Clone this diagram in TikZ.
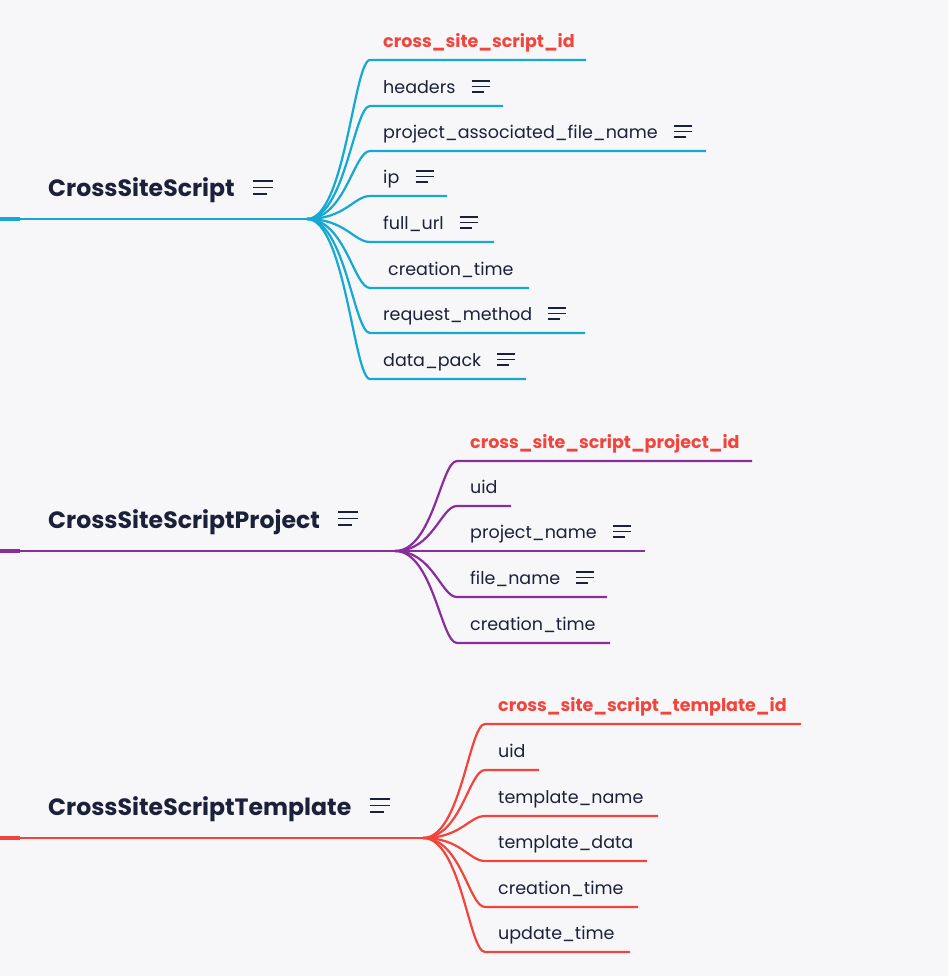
\documentclass[tikz,border=0pt]{standalone}
\usepackage{fontspec}
\setmainfont{Poppins}
\usetikzlibrary{calc}
\definecolor{bg}{HTML}{F7F7FA}
\definecolor{ink}{HTML}{1A2139}
\definecolor{cblue}{HTML}{14A9D3}
\definecolor{cpurple}{HTML}{8A2D9C}
\definecolor{cred}{HTML}{F2443B}
\tikzset{
  title/.style={anchor=base west, inner sep=0pt, font=\fontsize{23.6}{28}\selectfont\bfseries, text=ink},
  field/.style={anchor=base west, inner sep=0pt, font=\fontsize{17.5}{21}\selectfont, text=ink},
  keyfield/.style={anchor=base west, inner sep=0pt, font=\fontsize{17.5}{21}\selectfont\bfseries, text=cred},
  branch/.style={line width=2.2pt},
  menuicon/.pic={\draw[line width=1.6pt, ink] (-9,-5.5)--(9,-5.5) (-9,0)--(9,0) (-9,5.5)--(3,5.5);},
  bigmenu/.pic={\draw[line width=1.8pt, ink] (-10,-6.5)--(10,-6.5) (-10,0)--(10,0) (-10,6.5)--(4,6.5);}
}
\begin{document}
\begin{tikzpicture}[x=1pt,y=-1pt]
\fill[bg] (0,0) rectangle (948,976);
\useasboundingbox (0,0) rectangle (948,976);

% ---------- CrossSiteScript (blue) ----------
\coordinate (r1) at (0,219);
\coordinate (f1) at (307,219);
\draw[branch, cblue] (r1) -- (f1);
\draw[cblue, line width=3.5pt] (r1) -- ++(20,0);
\node[title] (t1) at (48,197) {CrossSiteScript};
\pic at ($(t1.base east)+(28,-9.5)$) {bigmenu};
\foreach \i/\y/\e/\txt/\m in {
  1/60/586/{cross\_site\_script\_id}/0,
  2/106/503/{headers}/1,
  3/151/706/{project\_associated\_file\_name}/1,
  4/196/447/{ip}/1,
  5/242/494/{full\_url}/1,
  6/288/529/{\hspace*{5pt}creation\_time}/0,
  7/333/585/{request\_method}/1,
  8/379/526/{data\_pack}/1}{
  \coordinate (s1\i) at (370,\y);
  \coordinate (e1\i) at (\e,\y);
  \draw[branch, cblue] (f1) .. controls ($(f1)+(38,0)$) and ($(s1\i)+(-16,0)$) .. (s1\i) -- (e1\i);
  \ifnum\i=1
    \node[keyfield] (c1\i) at (383,\y-12.5) {\txt};
  \else
    \node[field] (c1\i) at (383,\y-12.5) {\txt};
  \fi
  \ifnum\m=1 \pic at ($(c1\i.base east)+(25,-7)$) {menuicon}; \fi
}

% ---------- CrossSiteScriptProject (purple) ----------
\coordinate (r2) at (0,551);
\coordinate (f2) at (395,551);
\draw[branch, cpurple] (r2) -- (f2);
\draw[cpurple, line width=3.5pt] (r2) -- ++(20,0);
\node[title] (t2) at (48,528) {CrossSiteScriptProject};
\pic at ($(t2.base east)+(28,-9.5)$) {bigmenu};
\foreach \i/\y/\e/\txt/\m in {
  1/461/752/{cross\_site\_script\_project\_id}/0,
  2/506/511/{uid}/0,
  3/551/645/{project\_name}/1,
  4/597/607/{file\_name}/1,
  5/643/610/{creation\_time}/0}{
  \coordinate (s2\i) at (457,\y);
  \coordinate (e2\i) at (\e,\y);
  \draw[branch, cpurple] (f2) .. controls ($(f2)+(38,0)$) and ($(s2\i)+(-16,0)$) .. (s2\i) -- (e2\i);
  \ifnum\i=1
    \node[keyfield] (c2\i) at (470,\y-12.5) {\txt};
  \else
    \node[field] (c2\i) at (470,\y-12.5) {\txt};
  \fi
  \ifnum\m=1 \pic at ($(c2\i.base east)+(25,-7)$) {menuicon}; \fi
}

% ---------- CrossSiteScriptTemplate (red) ----------
\coordinate (r3) at (0,838);
\coordinate (f3) at (423,838);
\draw[branch, cred] (r3) -- (f3);
\draw[cred, line width=3.5pt] (r3) -- ++(20,0);
\node[title] (t3) at (48,815) {CrossSiteScriptTemplate};
\pic at ($(t3.base east)+(28,-9.5)$) {bigmenu};
\foreach \i/\y/\e/\txt/\m in {
  1/724/801/{cross\_site\_script\_template\_id}/0,
  2/770/539/{uid}/0,
  3/816/658/{template\_name}/0,
  4/861/647/{template\_data}/0,
  5/907/638/{creation\_time}/0,
  6/952/630/{update\_time}/0}{
  \coordinate (s3\i) at (485,\y);
  \coordinate (e3\i) at (\e,\y);
  \draw[branch, cred] (f3) .. controls ($(f3)+(38,0)$) and ($(s3\i)+(-16,0)$) .. (s3\i) -- (e3\i);
  \ifnum\i=1
    \node[keyfield] (c3\i) at (498,\y-12.5) {\txt};
  \else
    \node[field] (c3\i) at (498,\y-12.5) {\txt};
  \fi
  \ifnum\m=1 \pic at ($(c3\i.base east)+(25,-7)$) {menuicon}; \fi
}
\end{tikzpicture}
\end{document}
